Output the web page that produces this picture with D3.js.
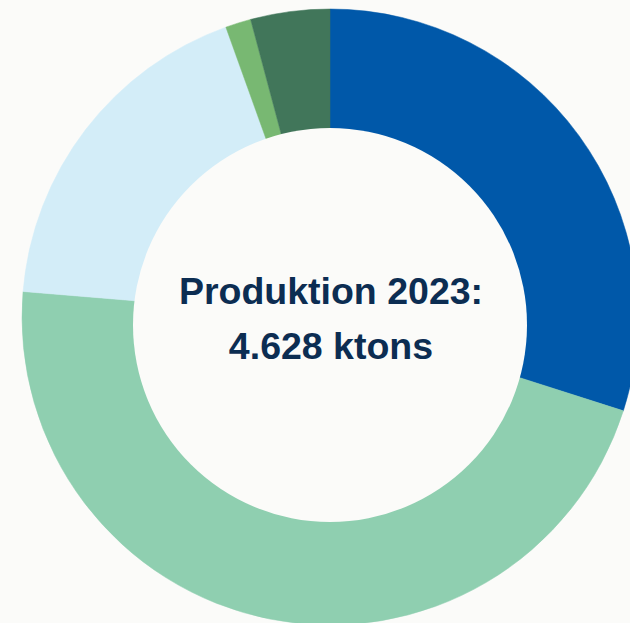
<!DOCTYPE html>
<html>
<head>
<meta charset="utf-8">
<script src="https://cdn.jsdelivr.net/npm/d3@7"></script>
<style>
  html, body { margin: 0; padding: 0; background: #fbfbf9; }
  svg { display: block; }
</style>
</head>
<body>
<svg id="chart" width="630" height="623"></svg>
<script>
// Production 2023 by segment (ktons), clockwise from 12 o'clock
const segments = ["Segment A", "Segment B", "Segment C", "Segment D", "Segment E"];
const values = [1385, 2147, 842, 62, 192];
const colors = ["#0058a9", "#8fcfb0", "#d3edf8", "#78b872", "#41765a"];
const titleLines = ["Produktion 2023:", "4.628 ktons"];

const bg = "#fbfbf9";
const svg = d3.select("#chart");

const cx = 330, cy = 317, outerR = 308;
const holeCx = 330, holeCy = 325, holeR = 197;

const pie = d3.pie().sort(null).value(d => d.value);
const arc = d3.arc().innerRadius(0).outerRadius(outerR);

const data = segments.map((s, i) => ({ name: s, value: values[i], color: colors[i] }));

const g = svg.append("g").attr("transform", `translate(${cx},${cy})`);
g.selectAll("path")
  .data(pie(data))
  .join("path")
  .attr("d", arc)
  .attr("fill", d => d.data.color)
  .attr("stroke", d => d.data.color)
  .attr("stroke-width", 0.5);

// centre hole
svg.append("circle")
  .attr("cx", holeCx)
  .attr("cy", holeCy)
  .attr("r", holeR)
  .attr("fill", bg);

// centre label
svg.append("g")
  .selectAll("text")
  .data(titleLines)
  .join("text")
  .attr("x", 331)
  .attr("y", (d, i) => 304 + i * 55)
  .attr("text-anchor", "middle")
  .attr("font-family", "'Liberation Sans', Arial, sans-serif")
  .attr("font-weight", "bold")
  .attr("font-size", 37.5)
  .attr("fill", "#0c2d52")
  .text(d => d);
</script>
</body>
</html>
